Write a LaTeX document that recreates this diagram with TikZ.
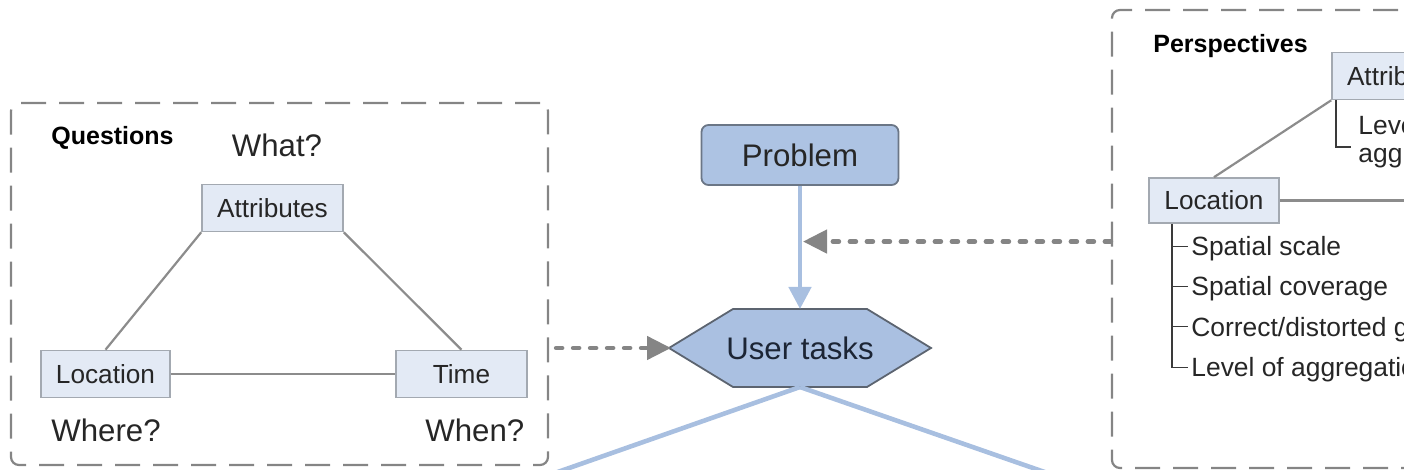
\documentclass[tikz,border=0pt]{standalone}
\usepackage{fontspec}
\setmainfont{Liberation Sans}
\usetikzlibrary{arrows.meta,calc}

\definecolor{boxfill}{HTML}{E3EAF5}
\definecolor{boxline}{HTML}{A3A9B1}
\definecolor{probfill}{HTML}{ADC3E3}
\definecolor{probline}{HTML}{6B7686}
\definecolor{hexfill}{HTML}{AAC0E1}
\definecolor{hexline}{HTML}{5C6470}
\definecolor{flow}{HTML}{A8BFE0}
\definecolor{dashgray}{HTML}{858585}
\definecolor{ink}{HTML}{262626}
\definecolor{navy}{HTML}{1C2535}
\definecolor{linkgray}{HTML}{8C8C8C}
\definecolor{treeline}{HTML}{3A3A3A}

\begin{document}
\begin{tikzpicture}[x=0.5pt,y=-0.5pt,
  frame/.style={draw=dashgray, line width=1.1pt, dash pattern=on 12.5pt off 6.5pt,
    rounded corners=4pt, inner sep=0pt},
  facet/.style={draw=boxline, fill=boxfill, line width=0.8pt, inner sep=0pt,
    minimum height=23.5pt, font=\fontsize{13.1}{15}\selectfont, text=ink},
  heading/.style={font=\fontsize{12.5}{14}\selectfont\bfseries, text=black, inner sep=0pt, anchor=base west},
  question/.style={font=\fontsize{15.6}{18}\selectfont, text=ink, inner sep=0pt, anchor=base},
  item/.style={font=\fontsize{13.2}{15}\selectfont, text=ink, inner sep=0pt, anchor=base west},
  link/.style={draw=linkgray, line width=1.1pt},
  tree/.style={draw=treeline, line width=0.9pt},
  flowline/.style={draw=flow, line width=2.3pt},
  dasharrow/.style={draw=dashgray, line width=2.3pt, line cap=round,
    dash pattern=on 3pt off 5.5pt, -{Triangle[length=12pt,width=11.5pt,fill=dashgray,line cap=butt]}},
]
\useasboundingbox (0,0) rectangle (1404,470);
\clip (0,0) rectangle (1404,470);

% ---------- Questions panel ----------
\node[frame, minimum width=268.5pt, minimum height=181pt] (qframe) at (279.5,284) {};
\node[heading] (qhead) at (51,145) {Questions};
\node[question] (what) at (277,157) {What?};
\node[question, anchor=base west] (where) at (51,442) {Where?};
\node[question, anchor=base west] (when) at (425,442) {When?};

\node[facet, minimum width=70.5pt] (qattr) at (272.5,208) {Attributes};
\node[facet, minimum width=64.5pt] (qloc) at (105.5,374) {Location};
\node[facet, minimum width=65.5pt] (qtime) at (461.5,374) {Time};

\draw[link] (qattr.south west) -- (qloc.north);
\draw[link] (qattr.south east) -- (qtime.north);
\draw[link] (qloc.east) -- (qtime.west);

% ---------- central flow ----------
\node[draw=probline, fill=probfill, line width=0.9pt, rounded corners=3.5pt,
  minimum width=98.5pt, minimum height=30pt, inner sep=0pt,
  font=\fontsize{15.6}{18}\selectfont, text=ink] (prob) at (800,155) {Problem};

\coordinate (ut) at (800,348);
\coordinate (utW) at ($(ut)+(-131,0)$);
\coordinate (utE) at ($(ut)+(131,0)$);
\coordinate (utN) at ($(ut)+(0,-39)$);
\coordinate (utS) at ($(ut)+(0,39)$);
\draw[draw=hexline, fill=hexfill, line width=0.9pt]
  (utW) -- ($(ut)+(-67,-39)$) -- ($(ut)+(67,-39)$) -- (utE)
  -- ($(ut)+(67,39)$) -- ($(ut)+(-67,39)$) -- cycle;
\node[font=\fontsize{15.6}{18}\selectfont, text=navy, inner sep=0pt] (uttext) at (ut) {User tasks};

\draw[flowline, -{Triangle[length=11pt,width=11pt]}] (prob.south) -- (utN);

\coordinate (lowL) at (478,500);
\coordinate (lowR) at (1125,500);
\draw[flowline] (utS) -- (lowL);
\draw[flowline] (utS) -- (lowR);

% ---------- Perspectives panel ----------
\node[frame, minimum width=204pt, minimum height=229pt] (pframe) at (1316,239) {};
\node[heading] (phead) at (1153,53) {Perspectives};

\node[facet, minimum width=69pt, text width=54pt, align=left] (rattr) at (1401,76) {Attributes};
\node[facet, minimum width=65pt, minimum height=22.5pt] (rloc) at (1214,200.5) {Location};

\coordinate (rtime) at (1500,200.5);
\draw[link] (rattr.south west) -- (rloc.north);
\draw[link] (rloc.east) -- (rtime);

\node[item] (lv1) at (1358,135) {Level of};
\node[item] (lv2) at (1358,163) {aggregation};
\coordinate (brk) at ($(rattr.south west)+(5,0)$);
\draw[tree] (brk) -- ++(0,47) -- ++(15,0);

\node[item] (i1) at (1191,256) {Spatial scale};
\node[item] (i2) at (1191,296) {Spatial coverage};
\node[item] (i3) at (1191,336) {Correct/distorted geometry};
\node[item] (i4) at (1191,377) {Level of aggregation};

\coordinate (trunk) at ($(rloc.south west)+(24,0)$);
\coordinate (t1) at ($(i1.base west)+(-3,-9.5)$);
\coordinate (t2) at ($(i2.base west)+(-3,-9.5)$);
\coordinate (t3) at ($(i3.base west)+(-3,-9.5)$);
\coordinate (t4) at ($(i4.base west)+(-3,-9.5)$);
\draw[tree] (trunk) |- (t4);
\foreach \t in {t1,t2,t3} \draw[tree] (trunk |- \t) -- (\t);

% ---------- influences on the flow ----------
\coordinate (hit) at ($(prob.south)!0.452!(utN)$);
\draw[dasharrow] ($(qframe.east |- utW)+(7,0)$) -- ($(utW)+(2,0)$);
\draw[dasharrow] (pframe.west |- hit) -- ($(hit)+(3,0)$);
\end{tikzpicture}
\end{document}
